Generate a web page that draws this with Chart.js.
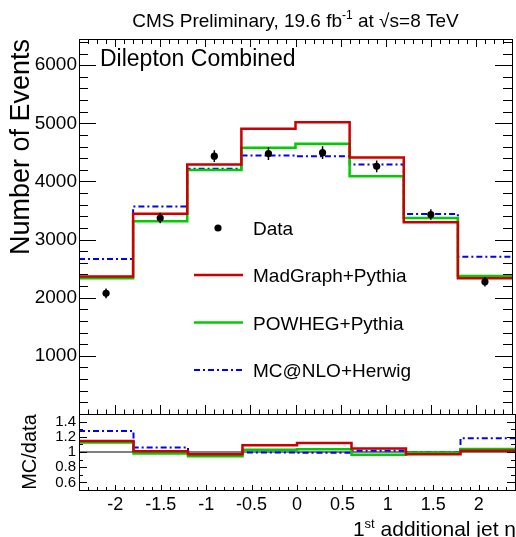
<!DOCTYPE html>
<html>
<head>
<meta charset="utf-8">
<title>1st additional jet eta</title>
<script src="https://cdn.jsdelivr.net/npm/chart.js@4.4.0/dist/chart.umd.min.js"></script>
<style>
  body { margin: 0; background: #fff; }
  #wrap { position: relative; width: 516px; height: 537px; }
  #wrap canvas { position: absolute; left: 0; top: 0; }
</style>
</head>
<body>
<div id="wrap">
  <canvas id="mainChart" width="516" height="537"></canvas>
  <canvas id="ratioChart" width="516" height="537"></canvas>
</div>
<script>
// binning of the 1st additional jet eta
const binEdges = [-2.4, -1.8, -1.2, -0.6, 0, 0.6, 1.2, 1.8, 2.4];
const binCenters = [-2.1, -1.5, -0.9, -0.3, 0.3, 0.9, 1.5, 2.1];

// number of events per bin
const dataEvents = [2075, 3370, 4435, 4480, 4495, 4260, 3430, 2275];
const dataErrors = [85, 90, 100, 110, 110, 100, 90, 80];
const madgraph = [2365, 3445, 4290, 4905, 5020, 4410, 3300, 2335];
const powheg = [2335, 3315, 4195, 4580, 4650, 4090, 3370, 2375];
const mcatnlo = [2665, 3570, 4220, 4445, 4435, 4290, 3440, 2705];

// MC/data
const ratioMadgraph = [1.145, 1.01, 0.97, 1.09, 1.12, 1.045, 0.97, 1.015];
const ratioPowheg = [1.125, 0.98, 0.945, 1.03, 1.035, 0.965, 0.995, 1.04];
const ratioMcatnlo = [1.275, 1.06, 0.95, 0.995, 0.99, 1.015, 1.0, 1.18];

// tick labels
const xTicks = [-2, -1.5, -1, -0.5, 0, 0.5, 1, 1.5, 2];
const yTicks = [1000, 2000, 3000, 4000, 5000, 6000];
const ratioTicks = [0.6, 0.8, 1, 1.2, 1.4];

const fontFamily = '"Liberation Sans", Arial, Helvetica, sans-serif';
const RED = '#cc0000', GREEN = '#00cc00', BLUE = '#0000ff';

// histogram outline: one point per left edge + closing point
function steps(vals) {
    let pts = vals.map((v, i) => ({ x: binEdges[i], y: v }));
    pts.push({ x: binEdges[binEdges.length - 1], y: vals[vals.length - 1] });
    return pts;
}

function histSet(label, vals, color, width, dash) {
    return {
        label: label,
        data: steps(vals),
        stepped: 'before',
        borderColor: color,
        borderWidth: width,
        borderDash: dash || [],
        pointRadius: 0,
        fill: false
    };
}

// ROOT style frame with inside ticks on all four sides
function rootFrame(o) {
    return {
        id: 'rootFrame',
        afterDatasetsDraw(chart) {
            const { ctx, chartArea: a } = chart;
            const xs = chart.scales.x, ys = chart.scales.y;
            ctx.save();
            ctx.strokeStyle = '#000';
            ctx.lineWidth = 1;
            ctx.beginPath();
            for (let i = -24; i <= 24; i++) {
                const px = Math.round(xs.getPixelForValue(i / 10)) + 0.5;
                const major = i % 5 === 0;
                if (o.xBottom) {
                    ctx.moveTo(px, a.bottom);
                    ctx.lineTo(px, a.bottom - (major ? o.xBottom[0] : o.xBottom[1]));
                }
                if (o.xTop) {
                    ctx.moveTo(px, a.top);
                    ctx.lineTo(px, a.top + (major ? o.xTop[0] : o.xTop[1]));
                }
            }
            for (let i = o.yFrom; i <= o.yTo; i++) {
                const py = Math.round(ys.getPixelForValue(i * o.yStep)) + 0.5;
                if (py < a.top || py > a.bottom + 1) continue;
                const len = i % o.yMajor === 0 ? o.yLen[0] : o.yLen[1];
                ctx.moveTo(a.left, py);
                ctx.lineTo(a.left + len, py);
                ctx.moveTo(a.right, py);
                ctx.lineTo(a.right - len, py);
            }
            ctx.stroke();
            ctx.strokeRect(Math.round(a.left) + 0.5, Math.round(a.top) + 0.5,
                Math.round(a.right - a.left), Math.round(a.bottom - a.top));
            ctx.restore();
        }
    };
}

// data error bars
const errorBars = {
    id: 'errorBars',
    afterDatasetsDraw(chart) {
        const { ctx } = chart;
        const xs = chart.scales.x, ys = chart.scales.y;
        ctx.save();
        ctx.strokeStyle = '#000';
        ctx.lineWidth = 1.5;
        ctx.beginPath();
        binCenters.forEach((c, i) => {
            const px = xs.getPixelForValue(c);
            ctx.moveTo(px, ys.getPixelForValue(dataEvents[i] - dataErrors[i]));
            ctx.lineTo(px, ys.getPixelForValue(dataEvents[i] + dataErrors[i]));
        });
        ctx.stroke();
        ctx.restore();
    }
};

// title, label and legend of the upper pad
const mainText = {
    id: 'mainText',
    afterDraw(chart) {
        const ctx = chart.ctx;
        const a = chart.chartArea;
        ctx.save();
        ctx.fillStyle = '#000';
        ctx.textBaseline = 'alphabetic';

        // title with superscript
        const big = '19px ' + fontFamily, small = '12px ' + fontFamily;
        const p1 = 'CMS Preliminary, 19.6 fb', sup = '-1', p2 = ' at \u221As=8 TeV';
        ctx.font = big;
        const w1 = ctx.measureText(p1).width, w3 = ctx.measureText(p2).width;
        ctx.font = small;
        const w2 = ctx.measureText(sup).width;
        let x = (a.left + a.right) / 2 - (w1 + w2 + w3) / 2;
        ctx.font = big;
        ctx.fillText(p1, x, 27);
        ctx.font = small;
        ctx.fillText(sup, x + w1, 19);
        ctx.font = big;
        ctx.fillText(p2, x + w1 + w2, 27);

        ctx.font = '23px ' + fontFamily;
        ctx.fillText('Dilepton Combined', 100, 66);

        // legend
        const rows = [228, 275, 322.5, 370];
        const sets = chart.data.datasets;
        ctx.font = '19px ' + fontFamily;
        sets.forEach((ds, i) => {
            const y = rows[i];
            if (i === 0) {
                ctx.beginPath();
                ctx.arc(218, y, 3.6, 0, Math.PI * 2);
                ctx.fill();
            } else {
                ctx.save();
                ctx.strokeStyle = ds.borderColor;
                ctx.lineWidth = ds.borderWidth;
                ctx.setLineDash(ds.borderDash);
                ctx.beginPath();
                ctx.moveTo(194, y);
                ctx.lineTo(243, y);
                ctx.stroke();
                ctx.restore();
            }
            ctx.fillText(ds.label, 253, y + 7);
        });
        ctx.restore();
    }
};

// x axis title of the lower pad
const ratioText = {
    id: 'ratioText',
    afterDraw(chart) {
        const ctx = chart.ctx;
        ctx.save();
        ctx.fillStyle = '#000';
        ctx.textBaseline = 'alphabetic';
        const big = '21px ' + fontFamily, small = '13px ' + fontFamily;
        const p2 = ' additional jet \u03B7';
        ctx.font = big;
        const w1 = ctx.measureText('1').width, w3 = ctx.measureText(p2).width;
        ctx.font = small;
        const w2 = ctx.measureText('st').width;
        let x = 516 - (w1 + w2 + w3);
        ctx.font = big;
        ctx.fillText('1', x, 536);
        ctx.font = small;
        ctx.fillText('st', x + w1, 528);
        ctx.font = big;
        ctx.fillText(p2, x + w1 + w2, 536);
        ctx.restore();
    }
};

Chart.defaults.font.family = fontFamily;
Chart.defaults.color = '#000';

new Chart(document.getElementById('mainChart'), {
    type: 'line',
    data: {
        datasets: [
            {
                label: 'Data',
                type: 'scatter',
                data: binCenters.map((c, i) => ({ x: c, y: dataEvents[i] })),
                pointRadius: 3.6,
                pointBackgroundColor: '#000',
                pointBorderWidth: 0,
                borderColor: '#000',
                showLine: false
            },
            histSet('MadGraph+Pythia', madgraph, RED, 2.5),
            histSet('POWHEG+Pythia', powheg, GREEN, 2.5),
            histSet('MC@NLO+Herwig', mcatnlo, BLUE, 2, [6, 3, 2, 3])
        ]
    },
    options: {
        responsive: false,
        animation: false,
        events: [],
        layout: { padding: { top: 39, right: 1, bottom: 123, left: 0 } },
        plugins: { legend: { display: false }, tooltip: { enabled: false } },
        scales: {
            x: { type: 'linear', min: -2.4, max: 2.4, display: false },
            y: {
                min: 0,
                max: 6450,
                afterFit(s) { s.width = 79; },
                afterBuildTicks(s) { s.ticks = yTicks.map(v => ({ value: v })); },
                grid: { display: false, drawTicks: false },
                border: { display: false },
                ticks: { font: { size: 19 }, padding: 2, autoSkip: false, callback: v => String(v) },
                title: {
                    display: true,
                    text: 'Number of Events',
                    align: 'end',
                    font: { size: 27 },
                    padding: { top: 5, bottom: 0 }
                }
            }
        }
    },
    plugins: [errorBars, rootFrame({
        xBottom: [9, 4.5], xTop: [8, 5],
        yFrom: 0, yTo: 32, yStep: 200, yMajor: 5, yLen: [17, 9]
    }), mainText]
});

new Chart(document.getElementById('ratioChart'), {
    type: 'line',
    data: {
        datasets: [
            histSet('MadGraph+Pythia', ratioMadgraph, RED, 2.5),
            histSet('POWHEG+Pythia', ratioPowheg, GREEN, 2.5),
            histSet('MC@NLO+Herwig', ratioMcatnlo, BLUE, 2, [6, 3, 2, 3]),
            {
                label: 'unity',
                data: [{ x: -2.4, y: 1 }, { x: 2.4, y: 1 }],
                borderColor: '#000',
                borderWidth: 1,
                pointRadius: 0
            }
        ]
    },
    options: {
        responsive: false,
        animation: false,
        events: [],
        layout: { padding: { top: 414, right: 1, bottom: 0, left: 0 } },
        plugins: { legend: { display: false }, tooltip: { enabled: false } },
        scales: {
            x: {
                type: 'linear',
                min: -2.4,
                max: 2.4,
                afterFit(s) { s.height = 47; },
                afterBuildTicks(s) { s.ticks = xTicks.map(v => ({ value: v })); },
                grid: { display: false, drawTicks: false },
                border: { display: false },
                ticks: { font: { size: 18 }, padding: 4, maxRotation: 0, autoSkip: false, callback: v => String(v) }
            },
            y: {
                min: 0.5,
                max: 1.5,
                afterFit(s) { s.width = 79; },
                afterBuildTicks(s) { s.ticks = ratioTicks.map(v => ({ value: v })); },
                grid: { display: false, drawTicks: false },
                border: { display: false },
                ticks: { font: { size: 15 }, padding: 3, autoSkip: false, callback: v => String(v) },
                title: {
                    display: true,
                    text: 'MC/data',
                    align: 'center',
                    font: { size: 20 },
                    padding: { top: 18, bottom: 0 }
                }
            }
        }
    },
    plugins: [rootFrame({
        xBottom: [5, 3], xTop: null,
        yFrom: 5, yTo: 15, yStep: 0.1, yMajor: 2, yLen: [8, 4]
    }), ratioText]
});
</script>
</body>
</html>
